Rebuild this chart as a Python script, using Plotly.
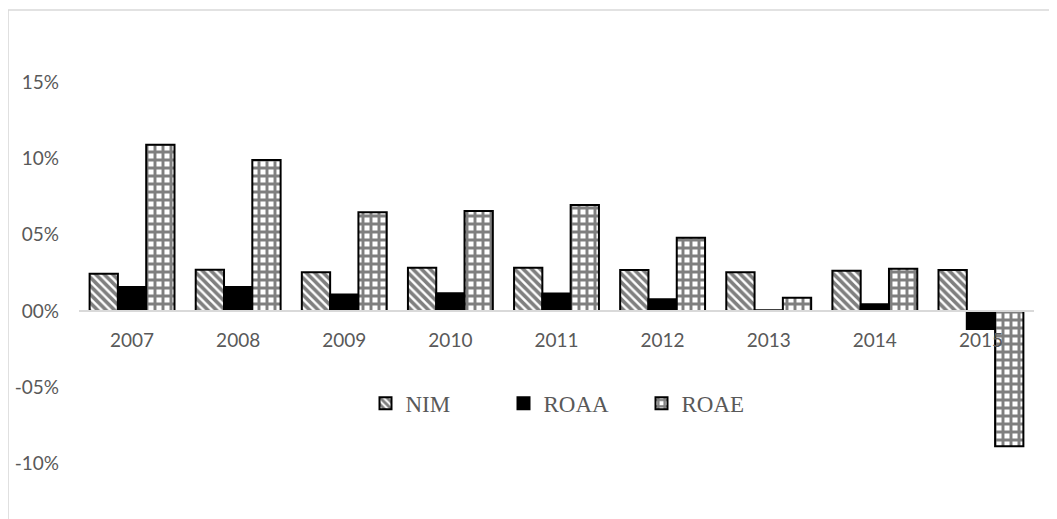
import plotly.graph_objects as go

# Data (fractions, shown as percent)
years = ["2007", "2008", "2009", "2010", "2011", "2012", "2013", "2014", "2015"]
nim = [0.0244, 0.0270, 0.0254, 0.0284, 0.0284, 0.0269, 0.0254, 0.0264, 0.0269]
roaa = [0.0157, 0.0157, 0.0109, 0.0116, 0.0114, 0.0077, 0.0005, 0.0044, -0.0118]
roae = [0.1090, 0.0990, 0.0647, 0.0655, 0.0695, 0.0480, 0.0087, 0.0277, -0.0887]

tick_vals = [-0.10, -0.05, 0.0, 0.05, 0.10, 0.15]
tick_text = ["-10%", "-05%", "00%", "05%", "10%", "15%"]

Y_MIN, Y_MAX = -0.1304, 0.1907
GRAY = "#595959"
TICK_FONT = dict(family="Lato, Open Sans, sans-serif", size=19, color=GRAY)

fig = go.Figure()

fig.add_trace(go.Bar(
    name="NIM", x=years, y=nim,
    marker=dict(
        color="white",
        line=dict(color="black", width=2),
        pattern=dict(shape="\\", fgcolor="black", bgcolor="white", size=6, solidity=0.6),
    ),
))
fig.add_trace(go.Bar(
    name="ROAA", x=years, y=roaa,
    marker=dict(color="black", line=dict(color="black", width=2)),
))
fig.add_trace(go.Bar(
    name="ROAE", x=years, y=roae,
    marker=dict(
        color="white",
        line=dict(color="black", width=2),
        pattern=dict(shape="+", fgcolor="black", bgcolor="white", size=8, solidity=0.6),
    ),
))

# light chart-area border (top and left visible, the rest runs off the picture)
fig.add_shape(
    type="rect", xref="paper", yref="paper",
    x0=-0.0743, x1=1.2, y0=-0.2, y1=1.0204,
    line=dict(color="#d9d9d9", width=1.5), fillcolor="rgba(0,0,0,0)", layer="below",
)

# the page body has an 8px margin, so the figure is shrunk by that much
fig.update_layout(
    width=1049, height=511, autosize=False,
    margin=dict(l=71, r=23, t=12, b=9),
    plot_bgcolor="white", paper_bgcolor="white",
    barmode="group", bargap=0.2, bargroupgap=0,
    font=dict(family="Lato, Open Sans, sans-serif", color=GRAY, size=19),
    showlegend=True,
    legend=dict(
        orientation="h", x=0.3, xanchor="left", y=0.218, yanchor="middle",
        font=dict(family="Liberation Serif, serif", size=23, color=GRAY),
        entrywidth=93, itemwidth=30, bgcolor="rgba(0,0,0,0)",
    ),
    xaxis=dict(
        type="category", showgrid=False, zeroline=False,
        showline=True, linecolor="#d9d9d9", linewidth=1.5,
        anchor="free", position=(0 - Y_MIN) / (Y_MAX - Y_MIN),
        ticks="", ticklabelstandoff=12, tickfont=TICK_FONT, automargin=False,
    ),
    yaxis=dict(
        range=[Y_MIN, Y_MAX], showgrid=False, zeroline=False, showline=False,
        tickmode="array", tickvals=tick_vals, ticktext=tick_text,
        ticks="", ticklabelstandoff=19, tickfont=TICK_FONT, automargin=False,
    ),
)

fig.write_html("out.html")
